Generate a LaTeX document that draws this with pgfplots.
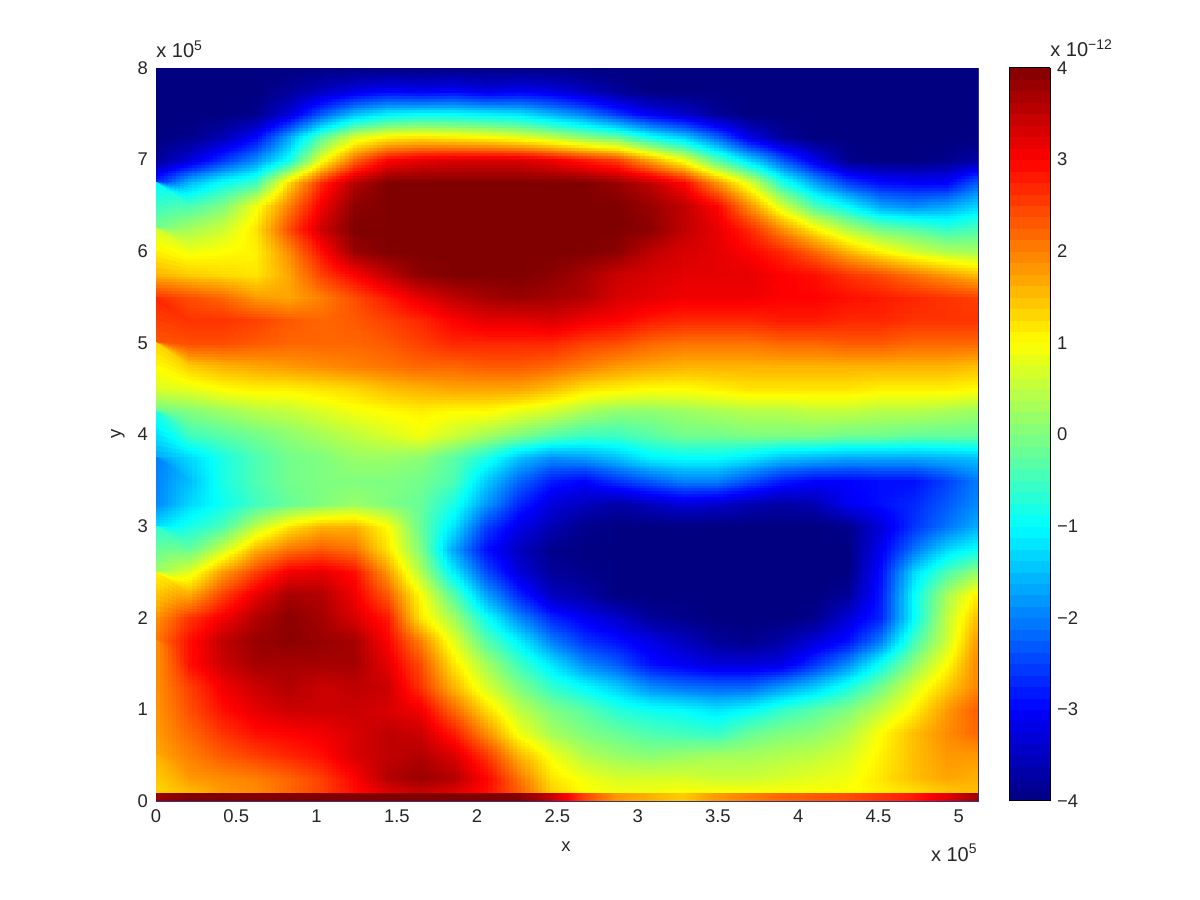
\documentclass[border=0pt]{standalone}
\usepackage{pgfplots}
\usepgfplotslibrary{patchplots}
\pgfplotsset{compat=1.18}
\usepackage{fontspec}
\setmainfont{Liberation Sans}
\definecolor{txt}{gray}{0.15}
\begin{document}
\begin{tikzpicture}[x=1pt,y=1pt]
\path[use as bounding box] (0,0) rectangle (600,450);
\begin{axis}[
  at={(78pt,49.5pt)}, anchor=south west,
  scale only axis, width=411pt, height=366.5pt,
  xmin=0, xmax=5.12, ymin=0, ymax=8,
  xtick={0,0.5,1,1.5,2,2.5,3,3.5,4,4.5,5},
  xticklabels={0,0.5,1,1.5,2,2.5,3,3.5,4,4.5,5},
  ytick={0,1,2,3,4,5,6,7,8},
  yticklabels={0,1,2,3,4,5,6,7,8},
  major tick length=0pt,
  tick label style={font=\fontsize{9.2}{11}\selectfont, text=txt},
  xticklabel style={yshift=-1pt},
  yticklabel style={xshift=-0.5pt},
  axis line style={draw=black!55!blue!60!gray, line width=0.35pt},
  point meta min=-4, point meta max=4,
  colormap/jet,
  colorbar, colorbar sampled,
  colorbar style={
    samples=65,
    at={(1.0377,0)}, anchor=south west,
    scale only axis, width=20.5pt, height=366.5pt,
    ytick={-4,-3,-2,-1,0,1,2,3,4},
    yticklabels={−4,−3,−2,−1,0,1,2,3,4},
    yticklabel pos=right,
    major tick length=0pt,
    tick label style={font=\fontsize{9.2}{11}\selectfont, text=txt},
    axis line style={draw=black, line width=0.5pt},
  },
]
\addplot[surf, shader=interp, patch type=bilinear, mesh/cols=26, point meta=\thisrowno{0}]
table[header=false, row sep=\\,
  x expr={mod(\coordindex,26)*0.2048},
  y expr={max(0.08,8-0.25*floor(\coordindex/26))}]{
-4\\-4\\-4\\-4\\-4\\-4\\-4\\-4\\-4\\-4\\-4\\-4\\-4\\-4\\-4\\-4\\-4\\-4\\-4\\-4\\-4\\-4\\-4\\-4\\-4\\-4\\
-4\\-4\\-4\\-4\\-3.8\\-3.5\\-3.2\\-3\\-3.1\\-3\\-3.2\\-3.1\\-3.2\\-3.5\\-3.8\\-4\\-4\\-4\\-4\\-4\\-4\\-4\\-4\\-4\\-4\\-4\\
-4\\-4\\-4\\-3.9\\-3.3\\-2.3\\-1.5\\-1.1\\-1\\-1\\-1.1\\-1.2\\-1.6\\-2\\-2.6\\-3.1\\-3.4\\-3.8\\-4\\-4\\-4\\-4\\-4\\-4\\-4\\-4\\
-4\\-3.9\\-3.6\\-3\\-1.7\\-0.3\\0.7\\1.1\\1.2\\1.1\\1\\0.8\\0.5\\0.1\\-0.2\\-0.9\\-1.4\\-2.2\\-3.2\\-3.8\\-4\\-4\\-4\\-4\\-4\\-4\\
-3.8\\-3.3\\-2.6\\-1.9\\-0.9\\0.9\\2.2\\3\\3.2\\3.3\\3.3\\3.3\\3.1\\2.8\\2.5\\1.7\\0.9\\-0.3\\-1.3\\-2.3\\-3.2\\-3.9\\-4\\-4\\-3.9\\-3.7\\
-2.6\\-1.5\\-0.9\\-0.5\\1.3\\2.7\\3.6\\4\\4\\4\\4\\4\\4\\4\\3.8\\3.5\\3\\1.9\\0.8\\-0.7\\-1.7\\-2.5\\-2.9\\-3\\-3\\-2.2\\
-1\\-0.4\\0\\0.9\\2\\3.1\\3.9\\4\\4\\4\\4\\4\\4\\4\\4\\3.8\\3.5\\3\\1.9\\0.7\\-0.4\\-1\\-1.7\\-1.9\\-1.7\\-1.3\\
0\\0.3\\0.6\\1.2\\2.4\\3.4\\4\\4\\4\\4\\4\\4\\4\\4\\4\\3.9\\3.5\\3.2\\2.7\\1.9\\1.1\\0.4\\-0.1\\-0.3\\-0.6\\-0.4\\
0.7\\0.9\\1\\1.1\\1.9\\2.9\\3.8\\4\\4\\4\\4\\4\\4\\4\\3.9\\3.5\\3.3\\3.2\\3\\2.7\\2.2\\1.6\\1.1\\0.7\\0.4\\0.3\\
1.6\\1.4\\1.3\\1.2\\1.7\\2.5\\3\\3.5\\3.9\\4\\4\\4\\3.9\\3.7\\3.4\\3.3\\3.2\\3.2\\3.2\\3\\2.9\\2.6\\2.4\\2.1\\1.8\\1.5\\
2.6\\2.4\\2.2\\1.8\\1.7\\2\\2.4\\2.8\\3.2\\3.5\\3.7\\3.8\\3.7\\3.6\\3.3\\3.2\\3.1\\3.1\\3.1\\3\\3\\2.9\\2.8\\2.7\\2.6\\2.5\\
2.7\\2.6\\2.6\\2.5\\2.3\\2.2\\2.3\\2.5\\2.7\\3\\3.2\\3.2\\3.3\\3.1\\3\\2.8\\2.7\\2.7\\2.7\\2.8\\2.8\\2.7\\2.7\\2.6\\2.6\\2.6\\
2.3\\2.4\\2.4\\2.3\\2.2\\2.2\\2.2\\2.3\\2.5\\2.7\\2.7\\2.7\\2.7\\2.5\\2.4\\2.2\\2.1\\2.1\\2.1\\2.2\\2.2\\2.3\\2.3\\2.2\\2.2\\2.2\\
1.3\\1.4\\1.6\\1.7\\1.8\\1.9\\2\\2.1\\2.2\\2.2\\2.3\\2.3\\2.2\\2\\1.8\\1.7\\1.6\\1.6\\1.6\\1.6\\1.6\\1.6\\1.6\\1.6\\1.6\\1.5\\
0.7\\0.8\\1\\1.1\\1.1\\1.2\\1.3\\1.5\\1.6\\1.7\\1.7\\1.7\\1.5\\1.2\\1.1\\1\\1\\1.1\\1.2\\1.2\\1.2\\1.2\\1.1\\1.1\\1.1\\1\\
-0.2\\0\\0.2\\0.4\\0.5\\0.7\\0.9\\1\\1.1\\1\\1\\0.8\\0.6\\0.3\\0.1\\0.1\\0.2\\0.3\\0.4\\0.4\\0.5\\0.5\\0.4\\0.4\\0.3\\0.2\\
-0.8\\-0.5\\-0.3\\-0.1\\0.1\\0.3\\0.5\\0.7\\0.9\\0.6\\0.3\\0\\-0.3\\-0.5\\-0.5\\-0.3\\-0.1\\-0.1\\0\\0\\0\\-0.1\\-0.1\\-0.2\\-0.2\\-0.2\\
-1.7\\-1.3\\-0.8\\-0.4\\-0.1\\0\\0.2\\0.2\\0.1\\-0.3\\-0.8\\-1.5\\-1.9\\-1.8\\-1.5\\-1.1\\-1\\-1\\-1.2\\-1.5\\-1.6\\-1.7\\-1.7\\-1.7\\-1.6\\-1.5\\
-2\\-1.5\\-0.8\\-0.4\\-0.1\\0\\0\\0\\-0.1\\-0.4\\-1.4\\-2.2\\-2.8\\-3\\-2.6\\-2.3\\-2\\-2\\-2.4\\-2.8\\-3\\-3\\-2.9\\-2.9\\-2.5\\-2\\
-1.9\\-1.3\\-0.9\\-0.5\\-0.2\\0\\0.2\\0\\-0.2\\-0.8\\-1.8\\-2.7\\-3.3\\-3.5\\-3.7\\-3.5\\-3.3\\-3.4\\-3.6\\-3.7\\-3.6\\-3.1\\-2.9\\-2.7\\-2.3\\-1.9\\
-1.2\\-0.8\\-0.4\\0.5\\1.2\\1.6\\1.6\\1\\-0.2\\-1.2\\-2.5\\-3.2\\-3.6\\-3.9\\-4\\-4\\-4\\-4\\-4\\-4\\-4\\-3.9\\-3.3\\-2.6\\-2.1\\-1.6\\
-0.6\\-0.2\\0.6\\1.6\\2.1\\2.3\\2.1\\1.2\\0\\-1.7\\-2.9\\-3.5\\-3.9\\-4\\-4\\-4\\-4\\-4\\-4\\-4\\-4\\-4\\-3.1\\-2.1\\-1.3\\-0.9\\
0.3\\0.8\\1.8\\2.5\\3.1\\3.2\\2.9\\1.8\\0.4\\-1.1\\-2.4\\-3.3\\-3.8\\-3.9\\-4\\-4\\-4\\-4\\-4\\-4\\-4\\-4\\-2.9\\-1.3\\-0.4\\0.2\\
1.1\\1.7\\2.5\\3.2\\3.7\\3.6\\3.1\\2.3\\1\\-0.3\\-1.7\\-2.7\\-3.5\\-3.7\\-4\\-4\\-4\\-4\\-4\\-4\\-4\\-3.8\\-2.8\\-1\\0.3\\1.2\\
1.9\\2.6\\3.1\\3.6\\3.9\\3.7\\3.3\\2.8\\1.2\\0.3\\-0.9\\-1.9\\-2.7\\-3.1\\-3.4\\-3.8\\-3.9\\-4\\-4\\-4\\-3.9\\-3.3\\-2.7\\-1\\0.5\\1.6\\
2.1\\2.9\\3.5\\3.8\\3.9\\3.8\\3.7\\3\\2\\0.8\\-0.3\\-1.1\\-2\\-2.6\\-2.9\\-3.2\\-3.5\\-3.8\\-3.9\\-3.7\\-3.3\\-2.9\\-2\\-0.5\\0.6\\1.9\\
1.9\\2.9\\3.4\\3.7\\3.7\\3.7\\3.7\\3.2\\2.4\\1.2\\0.3\\-0.5\\-1.2\\-1.9\\-2.3\\-2.9\\-3.1\\-3.3\\-3.3\\-3.2\\-2.6\\-1.9\\-0.9\\0.1\\1\\2\\
1.9\\2.5\\3.1\\3.4\\3.6\\3.4\\3.5\\3.4\\2.6\\1.6\\0.7\\0\\-0.6\\-1\\-1.4\\-1.9\\-2.1\\-2.2\\-2.2\\-1.8\\-1.4\\-0.8\\-0.1\\0.7\\1.4\\2\\
1.9\\2.4\\2.9\\3.2\\3.4\\3.4\\3.4\\3.3\\3.1\\2.2\\1.3\\0.5\\0\\-0.3\\-0.7\\-0.9\\-1\\-1.2\\-1\\-0.6\\-0.3\\0\\0.5\\1.1\\1.8\\2.3\\
1.8\\2.2\\2.6\\2.9\\3\\3.1\\3.3\\3.5\\3.4\\2.8\\1.9\\0.9\\0.3\\0\\-0.2\\-0.4\\-0.5\\-0.6\\-0.2\\0\\0.1\\0.4\\1\\1.5\\1.9\\2.2\\
1.7\\2\\2.3\\2.5\\2.7\\2.9\\3.3\\3.5\\3.6\\3.3\\2.6\\1.6\\0.9\\0.4\\0.2\\0.1\\0.2\\0.3\\0.3\\0.4\\0.5\\0.7\\1.1\\1.5\\1.8\\1.8\\
1.6\\1.8\\1.9\\2\\2.2\\2.5\\3\\3.6\\3.8\\3.6\\3\\2.1\\1.2\\0.9\\0.7\\0.7\\0.7\\0.6\\0.6\\0.7\\0.8\\0.9\\1.2\\1.5\\1.7\\1.6\\
1.3\\1.5\\1.8\\1.9\\2.2\\2.5\\2.9\\3.2\\3.4\\3.2\\2.9\\2.3\\1.4\\1\\0.9\\0.9\\1\\1\\1\\1\\1\\1\\1.1\\1.2\\1.4\\1.5\\
};
\addplot[surf, shader=interp, patch type=bilinear, mesh/cols=26, point meta=\thisrowno{0}]
table[header=false, row sep=\\,
  x expr={mod(\coordindex,26)*0.2048},
  y expr={floor(\coordindex/26)*0.08}]{
3.8\\4\\4\\4\\4\\4\\4\\4\\4\\4\\4\\4\\3.5\\2.5\\1.8\\1.6\\1.4\\1.8\\2\\2.2\\2.3\\2.4\\2.6\\2.8\\3.2\\3.8\\
3.8\\4\\4\\4\\4\\4\\4\\4\\4\\4\\4\\4\\3.5\\2.5\\1.8\\1.6\\1.4\\1.8\\2\\2.2\\2.3\\2.4\\2.6\\2.8\\3.2\\3.8\\
};
\end{axis}
\begin{scope}[every node/.style={font=\fontsize{10}{12}\selectfont, text=txt, inner sep=0pt}]
\node[anchor=base, font=\fontsize{9.2}{11}\selectfont] at (283,24) {x};
\node[anchor=center, rotate=90, font=\fontsize{9.2}{11}\selectfont] at (59,233) {y};
\node[anchor=base west] at (78,421) {x 10\textsuperscript{5}};
\node[anchor=base east] at (489,19.5) {x 10\textsuperscript{5}};
\node[anchor=base west] at (525,421.5) {x 10\textsuperscript{−12}};
\end{scope}
\end{tikzpicture}
\end{document}
